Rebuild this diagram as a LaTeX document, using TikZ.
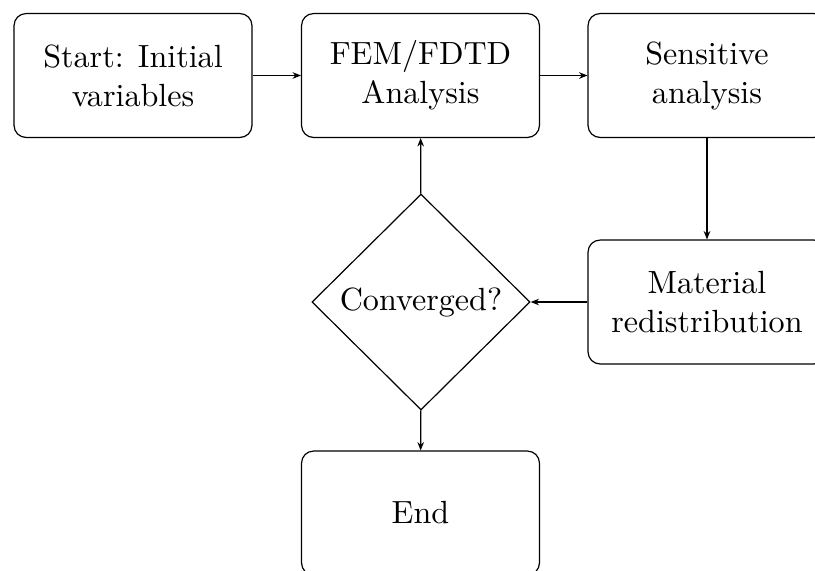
\documentclass[tikz,border=0pt]{standalone}
\usetikzlibrary{shapes.geometric,arrows.meta}
\begin{document}
\begin{tikzpicture}[x=0.33333pt,y=-0.33333pt,
  font=\fontsize{10.7}{13}\selectfont,
  procbox/.style={draw,rectangle,rounded corners=4pt,minimum width=79.3pt,minimum height=41.3pt,align=center,inner sep=0pt,line width=0.4pt},
  decbox/.style={draw,diamond,aspect=1,minimum width=72.7pt,minimum height=72pt,inner sep=0pt,line width=0.4pt},
  conn/.style={-{Stealth[length=2.8pt,width=2.2pt]},line width=0.4pt}]
\useasboundingbox (0,0) rectangle (815,570);
\clip (0,0) rectangle (815,570);
\node[procbox] (start) at (133,75.5) {Start: Initial\\variables};
\node[procbox] (fem) at (420.5,75.5) {FEM/FDTD\\Analysis};
\node[procbox] (sens) at (707,75.5) {Sensitive\\analysis};
\node[procbox] (mat) at (707,302) {Material\\redistribution};
\node[decbox] (conv) at (421,302) {Converged?};
\node[procbox] (end) at (420.5,513) {End};
\draw[conn] (start) -- (fem);
\draw[conn] (fem) -- (sens);
\draw[conn] (sens) -- (mat);
\draw[conn] (mat) -- (conv);
\draw[conn] (conv) -- (fem);
\draw[conn] (conv) -- (end);
\end{tikzpicture}
\end{document}
